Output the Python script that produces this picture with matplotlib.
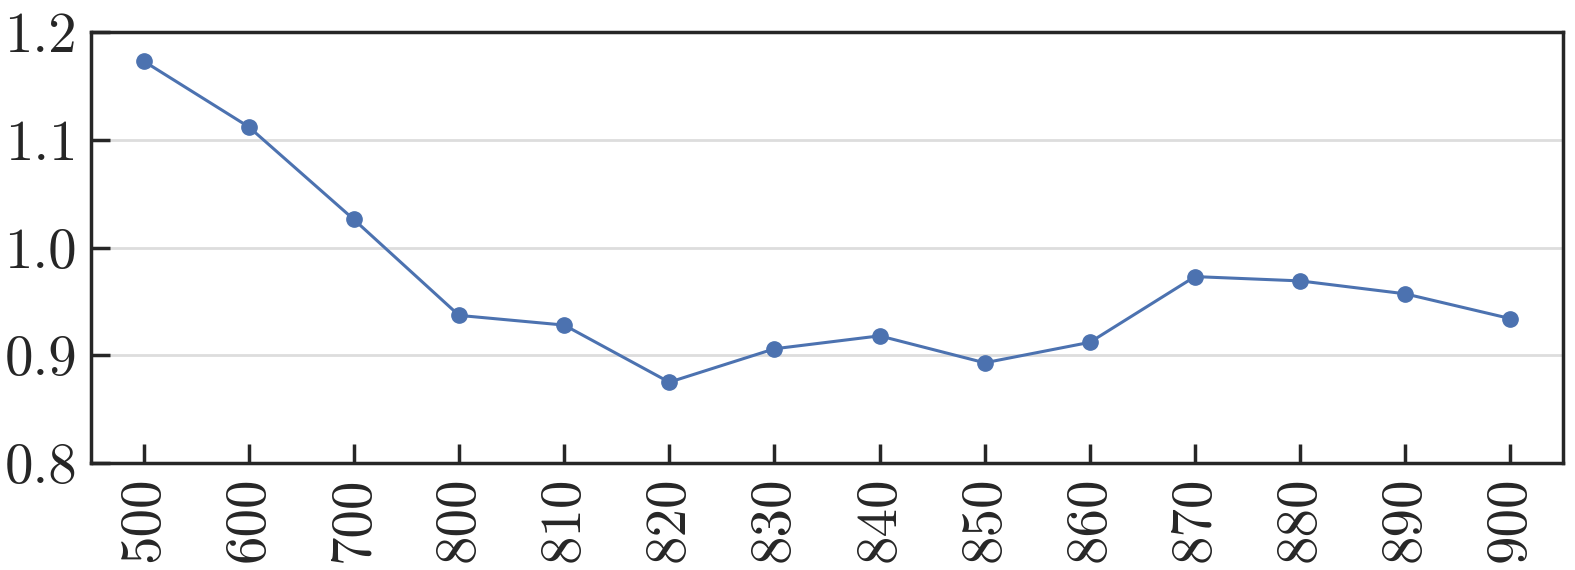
import numpy as np
import matplotlib
matplotlib.use("Agg")
import matplotlib.pyplot as plt

plt.rcParams['font.family'] = 'serif'
plt.rcParams['font.serif'] = ['cmr10']
plt.rcParams['mathtext.fontset'] = 'cm'
plt.rcParams['axes.formatter.use_mathtext'] = True

# data
categories = ['500', '600', '700', '800', '810', '820', '830',
              '840', '850', '860', '870', '880', '890', '900']
values = [1.173, 1.112, 1.026, 0.937, 0.928, 0.875, 0.906,
          0.918, 0.893, 0.912, 0.973, 0.969, 0.957, 0.934]
y_ticks = [0.8, 0.9, 1.0, 1.1, 1.2]
y_labels = ['0.8', '0.9', '1.0', '1.1', '1.2']

fig = plt.figure(figsize=(15.75, 5.7), dpi=100)
ax = fig.add_axes([91 / 1575, 1 - 463 / 570, (1563 - 91) / 1575, (463 - 32) / 570])

x = np.arange(len(categories))
ax.plot(x, values, color='#4C72B0', lw=2.2, marker='o', ms=11, zorder=3)

ax.set_xlim(-0.5, len(categories) - 0.5)
ax.set_ylim(0.8, 1.2)
ax.set_xticks(x)
ax.set_xticklabels(categories, rotation=90)
ax.set_yticks(y_ticks)
ax.set_yticklabels(y_labels)
ax.yaxis.grid(True, color='#dddddd', lw=2, zorder=0)
ax.set_axisbelow(True)

for s in ax.spines.values():
    s.set_color('#262626')
    s.set_linewidth(2.5)
ax.tick_params(direction='in', length=14, width=2.5, color='#262626',
               labelsize=41, labelcolor='#262626', pad=10)

fig.savefig('out.png', dpi=100)
